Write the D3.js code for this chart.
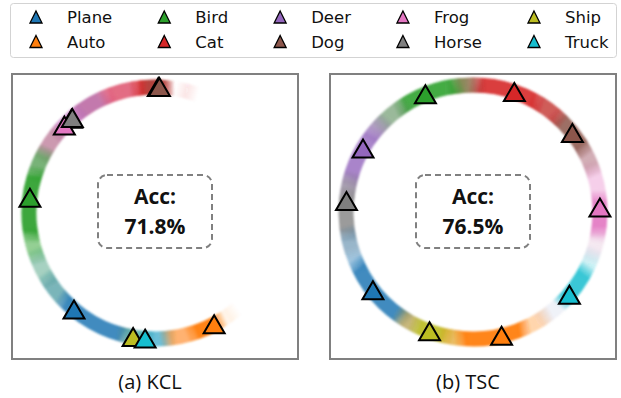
<!DOCTYPE html>
<html>
<head>
<meta charset="utf-8">
<script src="https://cdn.jsdelivr.net/npm/d3@7/dist/d3.min.js"></script>
<style>
  html, body { margin: 0; padding: 0; background: #fff; }
  svg { display: block; }
</style>
</head>
<body>
<svg id="chart" width="621" height="398"></svg>
<script>
// CIFAR-10 classes and their tab10 colours
const classes = ["Plane", "Auto", "Bird", "Cat", "Deer", "Dog", "Frog", "Horse", "Ship", "Truck"];
const classColors = ["#1f77b4", "#ff7f0e", "#2ca02c", "#d62728", "#9467bd",
                     "#8c564b", "#e377c2", "#7f7f7f", "#bcbd22", "#17becf"];

// Class prototype positions on the unit circle (degrees, counter-clockwise from +x)
const kclAngles = [230, 298, 173, 88.5, 131.5, 88, 136, 131, 260, 265.5];
const tscAngles = [218, 283, 112, 71, 150, 38.5, 2, 175, 250, 319.4];

// Feature density along the ring: [from°, to°, class, opacity]
const kclBands = [
  [74, 77, "Cat", 0.1],
  [85, 98, "Cat", 0.95], [85, 94, "Dog", 0.5],
  [98, 112, "Cat", 0.7], [100, 112, "Frog", 0.3],
  [112, 128, "Frog", 0.5], [112, 128, "Cat", 0.35], [115, 128, "Deer", 0.45],
  [128, 140, "Deer", 0.5], [128, 140, "Frog", 0.4],
  [140, 152, "Frog", 0.5], [140, 152, "Cat", 0.15], [140, 152, "Horse", 0.3],
  [152, 162, "Horse", 0.45], [152, 162, "Bird", 0.5],
  [162, 190, "Bird", 0.92],
  [190, 200, "Bird", 0.5],
  [200, 212, "Bird", 0.28], [200, 212, "Plane", 0.18],
  [212, 224, "Plane", 0.5], [212, 224, "Bird", 0.18],
  [224, 256, "Plane", 0.85],
  [256, 266, "Plane", 0.5], [256, 266, "Ship", 0.25], [258, 266, "Truck", 0.3],
  [266, 276, "Truck", 0.5], [266, 276, "Plane", 0.3],
  [276, 288, "Auto", 0.6],
  [288, 300, "Auto", 0.97],
  [304, 307, "Auto", 0.1]
];
const tscBands = [
  [-8, 6, "Frog", 0.9],
  [6, 20, "Frog", 0.35],
  [20, 30, "Frog", 0.25], [20, 30, "Dog", 0.35],
  [30, 48, "Dog", 0.85],
  [48, 60, "Dog", 0.5], [48, 60, "Cat", 0.6],
  [60, 88, "Cat", 0.9],
  [88, 98, "Cat", 0.45], [88, 98, "Dog", 0.45], [92, 98, "Bird", 0.35],
  [98, 124, "Bird", 0.88],
  [124, 136, "Bird", 0.4], [124, 136, "Horse", 0.35],
  [136, 142, "Deer", 0.5], [136, 142, "Horse", 0.25],
  [142, 165, "Deer", 0.8],
  [165, 172, "Deer", 0.4], [165, 172, "Horse", 0.5],
  [172, 190, "Horse", 0.78],
  [190, 205, "Plane", 0.42], [190, 198, "Horse", 0.22],
  [205, 236, "Plane", 0.85],
  [236, 244, "Plane", 0.35], [236, 244, "Ship", 0.35], [236, 244, "Auto", 0.25],
  [244, 258, "Ship", 0.9],
  [258, 265, "Auto", 0.5], [258, 265, "Ship", 0.3],
  [265, 293, "Auto", 0.95],
  [293, 304, "Auto", 0.32],
  [304, 316, "Frog", 0.08], [304, 316, "Truck", 0.06],
  [316, 332, "Truck", 0.85],
  [332, 340, "Truck", 0.2],
  [340, 350, "Frog", 0.12], [340, 350, "Horse", 0.06],
  [350, 352, "Frog", 0.4]
];

const accLabels = ["71.8%", "76.5%"];
const panelTitles = ["(a) KCL", "(b) TSC"];

const svg = d3.select("#chart");
const colorOf = d3.scaleOrdinal().domain(classes).range(classColors);
// math degrees -> d3 radial angle (clockwise from 12 o'clock)
const angle = d3.scaleLinear().domain([0, 360]).range([Math.PI / 2, Math.PI / 2 - 2 * Math.PI]);

const defs = svg.append("defs");
defs.append("filter").attr("id", "soft")
  .attr("x", "-10%").attr("y", "-10%").attr("width", "120%").attr("height", "120%")
  .append("feGaussianBlur").attr("stdDeviation", 1.2);

// triangle marker, centred on its bounding box
function tri(w, h) {
  const p = d3.path();
  p.moveTo(0, -h / 2); p.lineTo(w / 2, h / 2); p.lineTo(-w / 2, h / 2); p.closePath();
  return p.toString();
}

// ---------- legend ----------
const legend = svg.append("g");
legend.append("rect")
  .attr("x", 10.5).attr("y", 3.5).attr("width", 606).attr("height", 54)
  .attr("rx", 3).attr("fill", "#fff").attr("stroke", "#d3d3d3").attr("stroke-width", 1);
const rows = 2, cols = 5;
let colX = 36;
for (let c = 0; c < cols; c++) {
  let maxW = 0;
  for (let r = 0; r < rows; r++) {
    const i = c * rows + r;
    const cy = 17 + r * 24.5;
    legend.append("path").attr("d", tri(12, 12))
      .attr("transform", `translate(${colX},${cy})`)
      .attr("fill", classColors[i]).attr("stroke", "#000").attr("stroke-width", 1.3)
      .attr("stroke-linejoin", "miter");
    const t = legend.append("text")
      .attr("x", colX + 31).attr("y", cy + 6)
      .attr("font-family", "DejaVu Sans").attr("font-size", 16.5).attr("fill", "#111")
      .text(classes[i]);
    maxW = Math.max(maxW, t.node().getComputedTextLength());
  }
  colX += 31 + maxW + 52;
}

// ---------- panels ----------
const panels = [
  { x0: 12, x1: 298, cx: 155, cy: 213, r: 126, angles: kclAngles, bands: kclBands },
  { x0: 330, x1: 616, cx: 473, cy: 212, r: 127, angles: tscAngles, bands: tscBands }
];
const frameTop = 74, frameBottom = 359, ringWidth = 15, fade = 4;

panels.forEach((P, k) => {
  const g = svg.append("g");
  g.append("rect")
    .attr("x", P.x0).attr("y", frameTop)
    .attr("width", P.x1 - P.x0).attr("height", frameBottom - frameTop)
    .attr("fill", "#fff").attr("stroke", "#808080").attr("stroke-width", 2);

  const ringArc = d3.arc()
    .innerRadius(P.r - ringWidth / 2).outerRadius(P.r + ringWidth / 2);

  // each band cross-fades into its neighbours along its chord
  P.bands.forEach((d, i) => {
    const a0 = d[0] - fade, a1 = d[1] + fade;
    const p0 = d3.pointRadial(angle(a0), P.r), p1 = d3.pointRadial(angle(a1), P.r);
    const f = fade / (a1 - a0);
    const grad = defs.append("linearGradient")
      .attr("id", `band${k}_${i}`).attr("gradientUnits", "userSpaceOnUse")
      .attr("x1", p0[0]).attr("y1", p0[1]).attr("x2", p1[0]).attr("y2", p1[1]);
    [[0, 0], [Math.min(1.4 * f, 0.5), d[3]], [Math.max(1 - 1.4 * f, 0.5), d[3]], [1, 0]].forEach(([o, a]) =>
      grad.append("stop").attr("offset", o)
        .attr("stop-color", colorOf(d[2])).attr("stop-opacity", a));
  });
  g.append("g")
    .attr("transform", `translate(${P.cx},${P.cy})`)
    .attr("filter", "url(#soft)")
    .selectAll("path").data(P.bands).join("path")
    .attr("d", d => ringArc({ startAngle: angle(d[1] + fade), endAngle: angle(d[0] - fade) }))
    .attr("fill", (d, i) => `url(#band${k}_${i})`);

  // accuracy box
  const bx = P.cx - 57, by = 175;
  g.append("rect")
    .attr("x", bx).attr("y", by).attr("width", 114).attr("height", 73)
    .attr("rx", 9).attr("fill", "#fff").attr("fill-opacity", 0.85)
    .attr("stroke", "#808080").attr("stroke-width", 2).attr("stroke-dasharray", "6,4");
  g.append("text").attr("x", P.cx).attr("y", 204).attr("text-anchor", "middle")
    .attr("font-family", "Open Sans").attr("font-weight", "bold").attr("font-size", 21)
    .attr("fill", "#111").text("Acc:");
  g.append("text").attr("x", P.cx).attr("y", 234).attr("text-anchor", "middle")
    .attr("font-family", "Open Sans").attr("font-weight", "bold").attr("font-size", 21)
    .attr("fill", "#111").text(accLabels[k]);

  // class prototypes
  g.append("g").attr("transform", `translate(${P.cx},${P.cy})`)
    .selectAll("path").data(classes).join("path")
    .attr("d", tri(21, 18))
    .attr("transform", (c, i) => {
      const [x, y] = d3.pointRadial(angle(P.angles[i]), P.r);
      return `translate(${x},${y})`;
    })
    .attr("fill", c => colorOf(c)).attr("stroke", "#000").attr("stroke-width", 2)
    .attr("stroke-linejoin", "miter");

  svg.append("text").attr("x", (P.x0 + P.x1) / 2 - 5).attr("y", 389)
    .attr("text-anchor", "middle").attr("font-family", "Open Sans").attr("font-size", 20)
    .attr("fill", "#111").text(panelTitles[k]);
});
</script>
</body>
</html>
